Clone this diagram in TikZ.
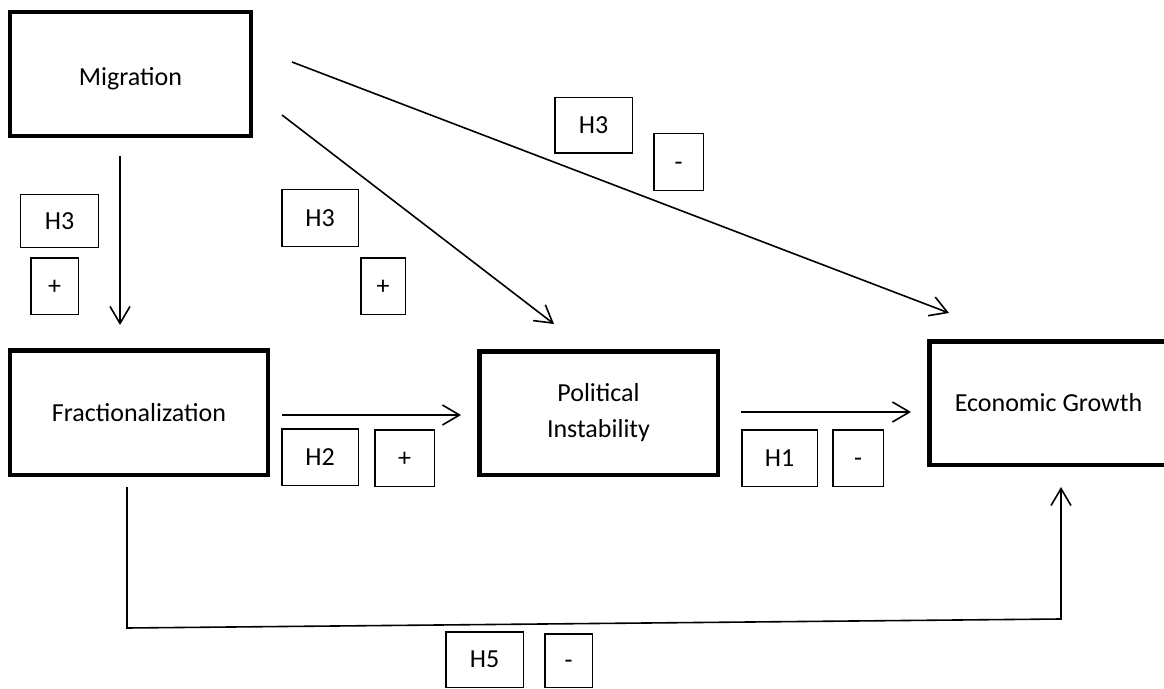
\documentclass[tikz,border=0pt]{standalone}
\usepackage{fontspec}
\setmainfont{Carlito}
\usetikzlibrary{arrows.meta}
\begin{document}
\begin{tikzpicture}[x=1bp,y=-1bp,
  every node/.style={font=\fontsize{26bp}{36bp}\selectfont, inner sep=0pt},
  bigbox/.style={draw, line width=4.5bp, rectangle, align=center},
  lab/.style={draw, line width=1.5bp, rectangle, text height=16.7bp, text depth=0bp},
  conn/.style={line width=1.6bp, -{Straight Barb[length=17bp,width=20bp,line width=1.6bp]}}
]
\useasboundingbox (0,0) rectangle (1164,689);
% main boxes
\node[bigbox, minimum width=240.5bp, minimum height=123.5bp, text height=22.7bp, text depth=0bp] (mig) at (130.5,74) {Migration};
\node[bigbox, minimum width=257.5bp, minimum height=124.5bp] (frac) at (139,412.5) {Fractionalization};
\node[bigbox, minimum width=238.5bp, minimum height=123.5bp] (pol) at (598.5,413) {Political\\Instability};
\node[bigbox, minimum width=238.5bp, minimum height=123.5bp] (eco) at (1048.5,403) {Economic Growth};
% labels
\node[lab, minimum width=77.5bp, minimum height=52.5bp] (h3a) at (59.5,221) {H3};
\node[lab, minimum width=47.5bp, minimum height=56.5bp] (pa) at (54.5,286) {+};
\node[lab, minimum width=76.5bp, minimum height=56.5bp] (h3b) at (320,218) {H3};
\node[lab, minimum width=44.5bp, minimum height=56.5bp] (pb) at (383,286) {+};
\node[lab, minimum width=77.5bp, minimum height=55.5bp] (h3c) at (593.5,125.5) {H3};
\node[lab, minimum width=49.5bp, minimum height=56.5bp] (mc) at (678.5,162) {-};
\node[lab, minimum width=76.5bp, minimum height=56.5bp] (h2) at (320,457) {H2};
\node[lab, minimum width=59.5bp, minimum height=56.5bp] (p2) at (404.5,458) {+};
\node[lab, minimum width=75.5bp, minimum height=56.5bp] (h1) at (779.5,458) {H1};
\node[lab, minimum width=50.5bp, minimum height=56.5bp] (m1) at (858,458) {-};
\node[lab, minimum width=77.5bp, minimum height=55.5bp] (h5) at (484.5,659.5) {H5};
\node[lab, minimum width=47.5bp, minimum height=53.5bp] (m5) at (568.5,660.5) {-};
% connector end points
\coordinate (a1s) at (120,156);
\coordinate (a1e) at (120,325);
\coordinate (a2s) at (282,115);
\coordinate (a2e) at (554,324);
\coordinate (a3s) at (292,62);
\coordinate (a3e) at (949,313);
\coordinate (a4s) at (282,415);
\coordinate (a4e) at (461,415);
\coordinate (a5s) at (741,412);
\coordinate (a5e) at (911,412);
\coordinate (a6s) at (127,487);
\coordinate (a6b) at (127,628);
\coordinate (a6c) at (1061,619);
\coordinate (a6e) at (1061,487);
% connectors
\draw[conn] (a1s) -- (a1e);
\draw[conn] (a2s) -- (a2e);
\draw[conn] (a3s) -- (a3e);
\draw[conn] (a4s) -- (a4e);
\draw[conn] (a5s) -- (a5e);
\draw[conn, line join=miter] (a6s) -- (a6b) -- (a6c) -- (a6e);
\end{tikzpicture}
\end{document}
